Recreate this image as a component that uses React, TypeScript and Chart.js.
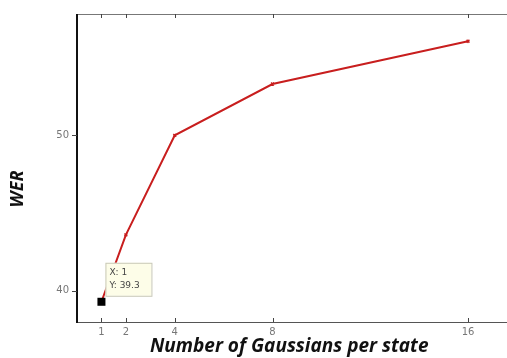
import React, { useEffect, useRef } from "react";
import { Chart, registerables } from "chart.js";

Chart.register(...registerables);

const gaussians = [1, 2, 4, 8, 16];
const werValues = [39.3, 43.6, 50.0, 53.3, 56.05];
const xTickValues = [1, 2, 4, 8, 16];
const yTickValues = [40, 50];
const xTitle = "Number of Gaussians per state";
const yTitle = "WER";
const tipIndex = 0;

const framePlugin = {
  id: "frame",
  afterDraw(chart: any) {
    const { ctx, chartArea } = chart;
    const xs = chart.scales.x;
    const ys = chart.scales.y;
    ctx.save();
    ctx.strokeStyle = "#777";
    ctx.lineWidth = 1;
    ctx.beginPath();
    ctx.moveTo(chartArea.left, chartArea.top + 0.5);
    ctx.lineTo(chart.width, chartArea.top + 0.5);
    ctx.stroke();
    ctx.strokeStyle = "#555";
    ctx.beginPath();
    ctx.moveTo(chartArea.left, chartArea.bottom + 0.5);
    ctx.lineTo(chart.width, chartArea.bottom + 0.5);
    ctx.stroke();
    ctx.strokeStyle = "#111";
    ctx.lineWidth = 2;
    ctx.beginPath();
    ctx.moveTo(chartArea.left, chartArea.top);
    ctx.lineTo(chartArea.left, chartArea.bottom + 1);
    ctx.stroke();
    ctx.strokeStyle = "#444";
    ctx.lineWidth = 1;
    xTickValues.forEach((v) => {
      const px = Math.round(xs.getPixelForValue(v)) + 0.5;
      ctx.beginPath();
      ctx.moveTo(px, chartArea.top);
      ctx.lineTo(px, chartArea.top + 4);
      ctx.moveTo(px, chartArea.bottom);
      ctx.lineTo(px, chartArea.bottom - 4);
      ctx.stroke();
    });
    yTickValues.forEach((v) => {
      const py = Math.round(ys.getPixelForValue(v)) + 0.5;
      ctx.beginPath();
      ctx.moveTo(chartArea.left - 5, py);
      ctx.lineTo(chartArea.left, py);
      ctx.stroke();
    });
    ctx.fillStyle = "#111";
    ctx.font = "italic bold 18px 'Open Sans'";
    ctx.textAlign = "center";
    ctx.textBaseline = "middle";
    ctx.translate(18, (chartArea.top + chartArea.bottom) / 2 + 21);
    ctx.rotate(-Math.PI / 2);
    ctx.fillText(yTitle, 0, 0);
    ctx.restore();

    const meta = chart.getDatasetMeta(0);
    const pt = meta.data[tipIndex];
    if (pt) {
      ctx.save();
      const bx = pt.x + 4;
      const by = pt.y - 39;
      ctx.fillStyle = "#fdfde8";
      ctx.strokeStyle = "#c8c8b8";
      ctx.lineWidth = 1;
      ctx.fillRect(bx, by, 46, 33);
      ctx.strokeRect(bx + 0.5, by + 0.5, 46, 33);
      ctx.fillStyle = "#444";
      ctx.font = "9px 'DejaVu Sans'";
      ctx.textAlign = "left";
      ctx.textBaseline = "middle";
      ctx.fillText("X: " + gaussians[tipIndex], bx + 4, by + 10);
      ctx.fillText("Y: " + werValues[tipIndex].toFixed(1), bx + 4, by + 23);
      ctx.fillStyle = "#000";
      ctx.fillRect(pt.x - 4, pt.y - 4, 8, 8);
      ctx.restore();
    }
  },
};

export default function App() {
  const ref = useRef<HTMLCanvasElement>(null);
  useEffect(() => {
    document.body.style.margin = "0";
    const chart = new Chart(ref.current!, {
      type: "line",
      data: {
        datasets: [
          {
            data: gaussians.map((g, i) => ({ x: g, y: werValues[i] })),
            borderColor: "#c81e1e",
            backgroundColor: "#c81e1e",
            borderWidth: 2,
            pointRadius: 2,
            pointStyle: "crossRot",
            pointBorderWidth: 1.5,
            tension: 0,
          },
        ],
      },
      options: {
        animation: false,
        responsive: false,
        layout: { padding: { top: 12, right: 0, left: 0, bottom: 0 } },
        plugins: { legend: { display: false }, tooltip: { enabled: false } },
        scales: {
          x: {
            type: "linear",
            min: 0,
            max: 17.37,
            afterBuildTicks: (s: any) => {
              s.ticks = xTickValues.map((v) => ({ value: v }));
            },
            afterFit: (s: any) => {
              s.height = 36;
            },
            grid: { display: false, drawTicks: false },
            border: { display: false },
            ticks: {
              color: "#777",
              font: { family: "'DejaVu Sans'", size: 10 },
              padding: 4,
              maxRotation: 0,
              autoSkip: false,
            },
            title: {
              display: true,
              text: xTitle,
              color: "#111",
              font: { family: "'Open Sans'", size: 19, style: "italic", weight: "bold" },
              padding: { top: 0, bottom: 0 },
            },
          },
          y: {
            min: 38,
            max: 57.8,
            afterBuildTicks: (s: any) => {
              s.ticks = yTickValues.map((v) => ({ value: v }));
            },
            afterFit: (s: any) => {
              s.width = 77;
            },
            grid: { display: false, drawTicks: false },
            border: { display: false },
            ticks: {
              color: "#777",
              font: { family: "'DejaVu Sans'", size: 10 },
              padding: 8,
            },
          },
        },
      },
      plugins: [framePlugin],
    } as any);
    return () => chart.destroy();
  }, []);
  return <canvas ref={ref} width={507} height={358} />;
}
